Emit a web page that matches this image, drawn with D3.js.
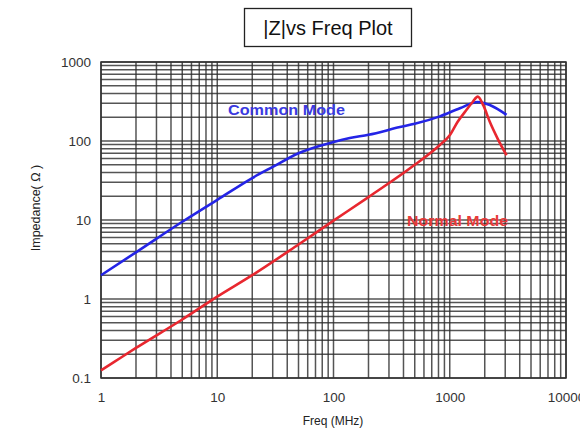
<!DOCTYPE html>
<html><head><meta charset="utf-8">
<script src="https://cdn.jsdelivr.net/npm/d3@7"></script>
<style>body{margin:0;background:#fff}svg{display:block}</style>
</head><body>
<svg id="c" width="580" height="432"></svg>
<script>
const title = "|Z|vs Freq Plot";
const xTickLabels = ["1","10","100","1000","10000"];
const xTickValues = [1,10,100,1000,10000];
const yTickLabels = ["0.1","1","10","100","1000"];
const yTickValues = [0.1,1,10,100,1000];
const commonFreq = [1,2,5,10,20,30,50,100,138,200,373,500,822,1222,1740,2210,3080];
const commonZ    = [2,3.9,9.5,18,34,47,70,97,109,120,150,165,205,260,312,285,214];
const normalFreq = [1,1.3,2,5,10,20,50,100,200,500,822,1000,1170,1400,1580,1740,1950,2210,2600,3080];
const normalZ    = [0.125,0.16,0.24,0.55,1.07,2.0,4.9,9.8,19.5,50,89,118,175,250,314,364,280,175,105,66];
const seriesNames = ["Common Mode","Normal Mode"];

const svg = d3.select("#c");
const L=101, R=566, T=62, B=378;
const x = d3.scaleLog().domain([1,10000]).range([L,R]);
const y = d3.scaleLog().domain([0.1,1000]).range([B,T]);

// grid
const minors = [];
for (let d=1; d<10000; d*=10) for (let k=1;k<10;k++) minors.push(d*k);
minors.push(10000);
const yMinors = [];
for (let d=0.1; d<999; d*=10) for (let k=1;k<10;k++) yMinors.push(+(d*k).toPrecision(3));
yMinors.push(1000);
const g = svg.append("g");
g.selectAll("line.v").data(minors).join("line")
  .attr("x1",d=>x(d)).attr("x2",d=>x(d)).attr("y1",T).attr("y2",B)
  .attr("stroke","#2a2a2a").attr("stroke-width",1.5).attr("stroke-opacity",0.8);
g.selectAll("line.h").data(yMinors).join("line")
  .attr("y1",d=>y(d)).attr("y2",d=>y(d)).attr("x1",L).attr("x2",R)
  .attr("stroke","#2a2a2a").attr("stroke-width",1.5).attr("stroke-opacity",0.8);
svg.append("rect").attr("x",L).attr("y",T).attr("width",R-L).attr("height",B-T)
  .attr("fill","none").attr("stroke","#333").attr("stroke-width",1.5);

// axes labels
const xa = svg.append("g").attr("transform",`translate(0,${B})`)
  .call(d3.axisBottom(x).tickValues(xTickValues).tickFormat((d,i)=>xTickLabels[i]).tickSize(0).tickPadding(14));
xa.select(".domain").remove();
xa.selectAll("text").attr("font-family","Liberation Sans, Arial, sans-serif").attr("font-size",13.5).attr("fill","#333");
const ya = svg.append("g").attr("transform",`translate(${L},0)`)
  .call(d3.axisLeft(y).tickValues(yTickValues).tickFormat((d,i)=>yTickLabels[i]).tickSize(0).tickPadding(10));
ya.select(".domain").remove();
ya.selectAll("text").attr("font-family","Liberation Sans, Arial, sans-serif").attr("font-size",13.5).attr("fill","#333");

svg.append("text").attr("x",333).attr("y",425).attr("text-anchor","middle")
  .attr("font-family","Liberation Sans, Arial, sans-serif").attr("font-size",12).attr("fill","#222").text("Freq (MHz)");
svg.append("text").attr("transform","translate(40,208) rotate(-90)").attr("text-anchor","middle")
  .attr("font-family","Liberation Sans, Arial, sans-serif").attr("font-size",12.5).attr("fill","#222").text("Impedance( Ω )");

// curves
const line = d3.line().x(d=>x(d[0])).y(d=>y(d[1])).curve(d3.curveMonotoneX);
svg.append("path").datum(commonFreq.map((f,i)=>[f,commonZ[i]])).attr("d",line)
  .attr("fill","none").attr("stroke","#2424e6").attr("stroke-width",2.6);
svg.append("path").datum(normalFreq.map((f,i)=>[f,normalZ[i]])).attr("d",line)
  .attr("fill","none").attr("stroke","#e8272f").attr("stroke-width",2.6);

svg.append("text").attr("x",228).attr("y",115).attr("textLength",117).attr("lengthAdjust","spacingAndGlyphs")
  .attr("font-family","Liberation Sans, Arial, sans-serif").attr("font-size",15).attr("font-weight","bold")
  .attr("fill","#3a3ae0").text(seriesNames[0]);
svg.append("text").attr("x",407).attr("y",226).attr("textLength",101).attr("lengthAdjust","spacingAndGlyphs")
  .attr("font-family","Liberation Sans, Arial, sans-serif").attr("font-size",15).attr("font-weight","bold")
  .attr("fill","#e83a3a").text(seriesNames[1]);

// title box
svg.append("rect").attr("x",244.5).attr("y",8.5).attr("width",167).attr("height",38)
  .attr("fill","#fff").attr("stroke","#222").attr("stroke-width",1.3);
svg.append("text").attr("x",328).attr("y",35).attr("text-anchor","middle")
  .attr("font-family","Liberation Sans, Arial, sans-serif").attr("font-size",20).attr("fill","#111").text(title);
</script>
</body></html>
